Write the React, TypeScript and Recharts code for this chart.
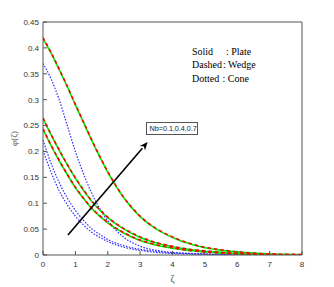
import React from 'react';
import { LineChart, Line, XAxis, YAxis, ReferenceLine } from 'recharts';

const xs = [0, 0.25, 0.5, 0.75, 1, 1.25, 1.5, 1.75, 2, 2.5, 3, 3.5, 4, 4.5, 5, 5.5, 6, 7, 8];

// Solid : Plate (green)
const plateNb1 = [0.418, 0.39, 0.358, 0.325, 0.29, 0.256, 0.222, 0.19, 0.16, 0.11, 0.074, 0.05, 0.034, 0.022, 0.014, 0.009, 0.006, 0.002, 0.001];
const plateNb2 = [0.264, 0.232, 0.202, 0.174, 0.148, 0.125, 0.104, 0.087, 0.072, 0.05, 0.034, 0.023, 0.016, 0.011, 0.007, 0.005, 0.003, 0.001, 0];
const plateNb3 = [0.243, 0.211, 0.182, 0.155, 0.13, 0.109, 0.09, 0.075, 0.062, 0.042, 0.028, 0.019, 0.013, 0.009, 0.006, 0.004, 0.002, 0.001, 0];

// Dashed : Wedge (red)
const wedgeNb1 = [0.42, 0.391, 0.359, 0.326, 0.291, 0.257, 0.223, 0.191, 0.161, 0.111, 0.075, 0.051, 0.035, 0.023, 0.015, 0.01, 0.006, 0.002, 0.001];
const wedgeNb2 = [0.265, 0.233, 0.203, 0.175, 0.149, 0.126, 0.105, 0.088, 0.073, 0.051, 0.035, 0.024, 0.017, 0.011, 0.008, 0.005, 0.003, 0.001, 0];
const wedgeNb3 = [0.244, 0.212, 0.183, 0.156, 0.131, 0.11, 0.091, 0.076, 0.063, 0.043, 0.029, 0.02, 0.014, 0.009, 0.006, 0.004, 0.002, 0.001, 0];

// Dotted : Cone (blue)
const coneNb1 = [0.37, 0.34, 0.3, 0.25, 0.2, 0.157, 0.12, 0.09, 0.066, 0.034, 0.017, 0.009, 0.005, 0.003, 0.002, 0.001, 0.001, 0, 0];
const coneNb2 = [0.222, 0.177, 0.14, 0.11, 0.086, 0.067, 0.051, 0.04, 0.03, 0.018, 0.011, 0.007, 0.004, 0.003, 0.002, 0.001, 0.001, 0, 0];
const coneNb3 = [0.202, 0.16, 0.124, 0.097, 0.075, 0.058, 0.044, 0.034, 0.026, 0.015, 0.009, 0.005, 0.003, 0.002, 0.001, 0.001, 0, 0, 0];

const xTicks = [0, 1, 2, 3, 4, 5, 6, 7, 8];
const yTicks = [0, 0.05, 0.1, 0.15, 0.2, 0.25, 0.3, 0.35, 0.4, 0.45];
const yTickLabels = ['0', '0.05', '0.1', '0.15', '0.2', '0.25', '0.3', '0.35', '0.4', '0.45'];

const arrowStart = { x: 0.77, y: 0.0385 };
const arrowEnd = { x: 3.23, y: 0.218 };

const legendLines = [
  { label: 'Solid', value: ': Plate', w: 34 },
  { label: 'Dashed', value: ': Wedge', w: 31 },
  { label: 'Dotted', value: ': Cone', w: 30.5 },
];
const nbLabel = 'Nb=0.1,0.4,0.7';

const data = xs.map((x, i) => ({
  x,
  p1: plateNb1[i], p2: plateNb2[i], p3: plateNb3[i],
  w1: wedgeNb1[i], w2: wedgeNb2[i], w3: wedgeNb3[i],
  c1: coneNb1[i], c2: coneNb2[i], c3: coneNb3[i],
}));

const ArrowShape = (props: any) => {
  const { x1, y1, x2, y2 } = props;
  const ang = Math.atan2(y2 - y1, x2 - x1);
  const L = 8, W = 3.5;
  const bx = x2 - L * Math.cos(ang), by = y2 - L * Math.sin(ang);
  const px = -Math.sin(ang) * W, py = Math.cos(ang) * W;
  return (
    <g>
      <line x1={x1} y1={y1} x2={bx} y2={by} stroke="#000" strokeWidth={1.6} />
      <path d={`M${x2},${y2} L${bx + px},${by + py} L${bx + 0.3 * (x2 - bx)},${by + 0.3 * (y2 - by)} L${bx - px},${by - py} Z`} fill="#000" />
    </g>
  );
};

const tickFont = { fontSize: 8, fill: '#333', fontFamily: 'Liberation Sans, Arial, sans-serif' };

export default function App() {
  const blue = '#2a2aff';
  const green = '#00ee00';
  const red = '#ff0000';
  return (
    <div style={{ position: 'absolute', left: 0, top: 0, width: 334, height: 287, background: '#fff' }}>
      <LineChart width={334} height={287} data={data} margin={{ top: 21, right: 31, bottom: 12, left: 0 }}>
        <XAxis dataKey="x" type="number" domain={[0, 8]} ticks={xTicks} allowDataOverflow
          height={20} tickSize={-4} tickMargin={10} tick={tickFont} stroke="#555"
          label={{ content: (p: any) => (
            <text x={p.viewBox.x + p.viewBox.width / 2} y={p.viewBox.y + 27} textAnchor="middle"
              fontSize={10} fill="#555" fontFamily="Liberation Serif, serif">ζ</text>
          ) }} />
        <XAxis xAxisId="top" orientation="top" dataKey="x" type="number" domain={[0, 8]} ticks={xTicks}
          height={1} tickSize={-4} tick={false} stroke="#555" />
        <YAxis type="number" domain={[0, 0.45]} ticks={yTicks} allowDataOverflow width={43}
          tickSize={-4} tickMargin={8} tick={tickFont} stroke="#555"
          tickFormatter={(v: number) => yTickLabels[yTicks.indexOf(v)] ?? String(v)}
          label={{ content: (p: any) => (
            <text x={p.viewBox.x + 17} y={p.viewBox.y + p.viewBox.height / 2} textAnchor="middle"
              transform={`rotate(-90 ${p.viewBox.x + 17} ${p.viewBox.y + p.viewBox.height / 2})`}
              fontSize={9} fill="#555" fontFamily="Liberation Serif, serif">φ(ζ)</text>
          ) }} />
        <YAxis yAxisId="right" orientation="right" type="number" domain={[0, 0.45]} ticks={yTicks}
          width={1} tickSize={-4} tick={false} stroke="#555" />

        <Line dataKey="c1" type="monotone" stroke={blue} strokeWidth={1.2} strokeDasharray="1.5 1.5" dot={false} isAnimationActive={false} />
        <Line dataKey="c2" type="monotone" stroke={blue} strokeWidth={1.2} strokeDasharray="1.5 1.5" dot={false} isAnimationActive={false} />
        <Line dataKey="c3" type="monotone" stroke={blue} strokeWidth={1.2} strokeDasharray="1.5 1.5" dot={false} isAnimationActive={false} />

        <Line dataKey="p1" type="monotone" stroke={green} strokeWidth={1.6} dot={false} isAnimationActive={false} />
        <Line dataKey="p2" type="monotone" stroke={green} strokeWidth={1.6} dot={false} isAnimationActive={false} />
        <Line dataKey="p3" type="monotone" stroke={green} strokeWidth={1.6} dot={false} isAnimationActive={false} />

        <Line dataKey="w1" type="monotone" stroke={red} strokeWidth={1.6} strokeDasharray="3.5 3" dot={false} isAnimationActive={false} />
        <Line dataKey="w2" type="monotone" stroke={red} strokeWidth={1.6} strokeDasharray="3.5 3" dot={false} isAnimationActive={false} />
        <Line dataKey="w3" type="monotone" stroke={red} strokeWidth={1.6} strokeDasharray="3.5 3" dot={false} isAnimationActive={false} />

        <ReferenceLine segment={[arrowStart, arrowEnd]} shape={ArrowShape} />
      </LineChart>

      <div style={{ position: 'absolute', left: 192, top: 45, fontFamily: 'Liberation Serif, Times New Roman, serif', fontSize: 10, lineHeight: '13.3px', color: '#000', whiteSpace: 'pre' }}>
        {legendLines.map((l) => (
          <div key={l.label}>
            <span style={{ display: 'inline-block', width: l.w }}>{l.label}</span>
            <span>{l.value}</span>
          </div>
        ))}
      </div>

      <div style={{ position: 'absolute', left: 146, top: 122, width: 52, height: 13, border: '1px solid #555', background: '#fff',
        fontFamily: 'Liberation Sans, Arial, sans-serif', fontSize: 7.2, lineHeight: '11px', color: '#222', paddingLeft: 2.5, boxSizing: 'border-box', whiteSpace: 'nowrap' }}>
        {nbLabel}
      </div>
    </div>
  );
}
